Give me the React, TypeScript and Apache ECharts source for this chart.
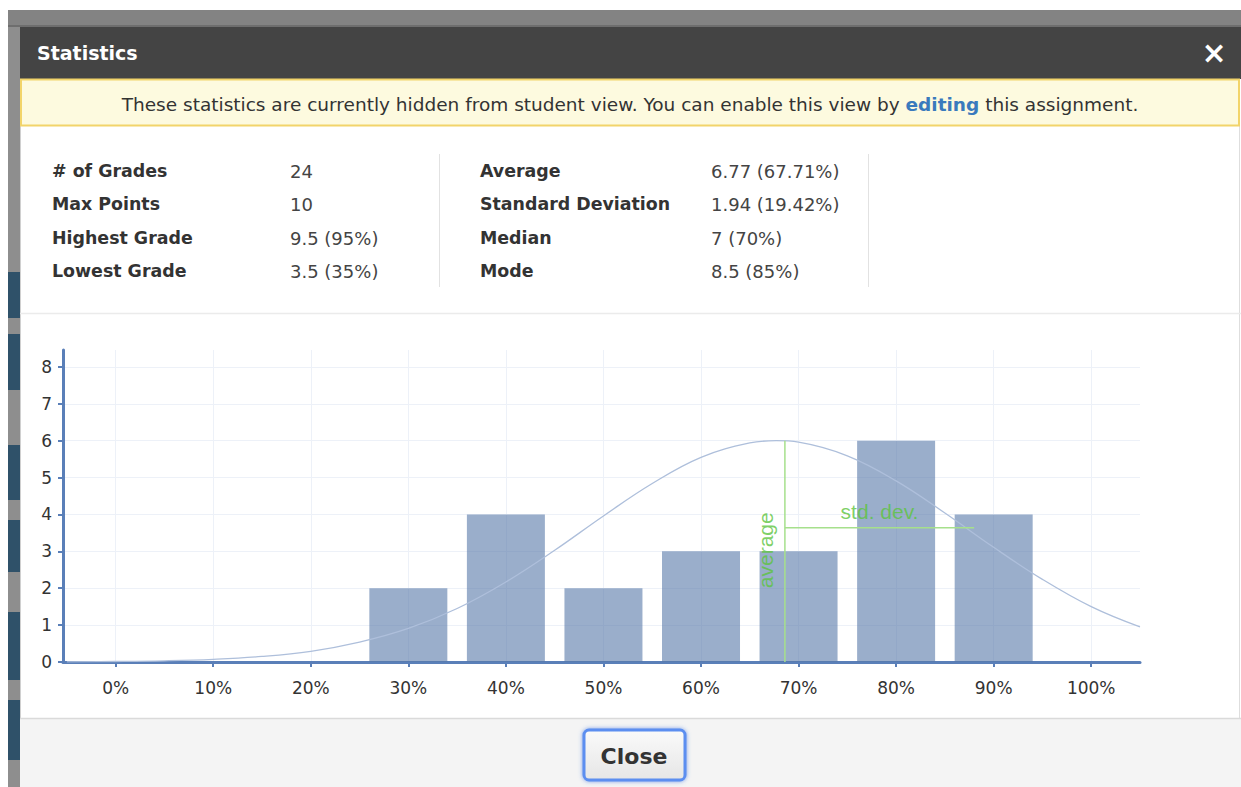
import React, { useEffect, useRef } from "react";
import * as echarts from "echarts";

// ---- data ----
const binCenters = [30, 40, 50, 60, 70, 80, 90];
const binCounts = [2, 4, 2, 3, 3, 6, 4];

const curveX = [-5, 0, 5, 10, 15, 20, 25, 30, 35, 40, 45, 50, 55, 60, 65, 67.7, 70, 75, 80, 85, 90, 95, 100, 105];
const curveY = [0.005, 0.014, 0.033, 0.073, 0.15, 0.29, 0.54, 0.91, 1.45, 2.17, 3.03, 3.96, 4.84, 5.55, 5.94, 6.0, 5.96, 5.59, 4.91, 4.04, 3.11, 2.24, 1.5, 0.95];

const xTicks = [0, 10, 20, 30, 40, 50, 60, 70, 80, 90, 100];
const yTicks = [0, 1, 2, 3, 4, 5, 6, 7, 8];

const averageX = 68.6;
const averageTop = 6;
const stdDevEndX = 88;
const stdDevY = 3.64;
const averageLabelY = 3.03;

const statLabelsLeft = ["# of Grades", "Max Points", "Highest Grade", "Lowest Grade"];
const statValuesLeft = ["24", "10", "9.5 (95%)", "3.5 (35%)"];
const statLabelsRight = ["Average", "Standard Deviation", "Median", "Mode"];
const statValuesRight = ["6.77 (67.71%)", "1.94 (19.42%)", "7 (70%)", "8.5 (85%)"];

const FONT = "DejaVu Sans";
const AXIS_BLUE = "#5a7fb8";
const GREEN_LINE = "#a6e08c";
const GREEN_TEXT = "#5cc43e";

function txt(text: string, x: number, y: number, opts: any = {}) {
  const align = opts.align || "left";
  return {
    type: "text",
    z: 50,
    style: {
      text,
      x,
      y,
      fill: opts.fill || "#333",
      fontSize: opts.fontSize || 17,
      fontWeight: opts.fontWeight || "normal",
      fontFamily: FONT,
      align,
      textAlign: align,
      verticalAlign: "middle",
      textVerticalAlign: "middle",
    },
  };
}

function rect(x: number, y: number, w: number, h: number, style: any, z = -10) {
  return { type: "rect", z, shape: { x, y, width: w, height: h }, style };
}

function line(x1: number, y1: number, x2: number, y2: number, stroke: string, lineWidth = 1, z = -5) {
  return { type: "line", z, shape: { x1, y1, x2, y2 }, style: { stroke, lineWidth } };
}

export default function App() {
  const ref = useRef<HTMLDivElement>(null);

  useEffect(() => {
    document.body.style.margin = "0";
    if (!ref.current) return;
    const chart = echarts.init(ref.current, undefined, { renderer: "svg" });

    const rowY = [171, 204, 238, 271];
    const stripSegments = [
      [272, 46],
      [334, 56],
      [445, 55],
      [520, 52],
      [612, 68],
      [700, 60],
    ];

    const graphics: any[] = [
      rect(0, 0, 1241, 787, { fill: "#ffffff" }, -100),
      rect(8, 10, 1233, 17, { fill: "#838383" }, -90),
      rect(8, 25, 1233, 2, { fill: "#6e6e6e" }, -89),
      rect(8, 27, 12, 760, { fill: "#8e8e8e" }, -90),
      ...stripSegments.map(([y, h]) => rect(8, y, 12, h, { fill: "#2f5169" }, -89)),
      // header
      rect(20, 27, 1221, 52, { fill: "#444444" }, -80),
      txt("Statistics", 37, 53, { fill: "#ffffff", fontSize: 19, fontWeight: "bold" }),
      txt("×", 1214, 52, { fill: "#ffffff", fontSize: 30, fontWeight: "bold", align: "center" }),
      // body
      rect(20, 79, 1221, 640, { fill: "#ffffff" }, -80),
      line(1239.5, 79, 1239.5, 787, "#dedede", 1, -70),
      line(20.5, 79, 20.5, 787, "#d0d0d0", 1, -70),
      // banner
      rect(21, 79.5, 1218, 46, { fill: "#fdfadf", stroke: "#f2d46a", lineWidth: 2 }, -70),
      {
        type: "text",
        z: 50,
        style: {
          text: "These statistics are currently hidden from student view. You can enable this view by {link|editing} this assignment.",
          x: 630,
          y: 104,
          fill: "#333",
          fontSize: 18.5,
          fontFamily: FONT,
          align: "center",
          textAlign: "center",
          verticalAlign: "middle",
          textVerticalAlign: "middle",
          rich: {
            link: { fill: "#3a7abd", color: "#3a7abd", fontWeight: "bold", fontSize: 18.5, fontFamily: FONT },
          },
        },
      },
      // stats
      ...statLabelsLeft.map((t, i) => txt(t, 52, rowY[i], { fontWeight: "bold", fill: "#333", fontSize: 17.4 })),
      ...statValuesLeft.map((t, i) => txt(t, 290, rowY[i], { fill: "#444", fontSize: 18 })),
      ...statLabelsRight.map((t, i) => txt(t, 480, rowY[i], { fontWeight: "bold", fill: "#333", fontSize: 17.4 })),
      ...statValuesRight.map((t, i) => txt(t, 711, rowY[i], { fill: "#444", fontSize: 18 })),
      line(439.5, 154, 439.5, 287, "#e2e2e2", 1, -60),
      line(868.5, 154, 868.5, 287, "#e2e2e2", 1, -60),
      line(20, 313.5, 1241, 313.5, "#ebebeb", 1.5, -60),
      // footer
      rect(20, 719, 1221, 68, { fill: "#f4f4f4" }, -60),
      line(20, 718.5, 1241, 718.5, "#dadada", 1.5, -55),
      {
        type: "rect",
        z: 40,
        shape: { x: 584, y: 730, width: 101, height: 50, r: 5 },
        style: {
          fill: new echarts.graphic.LinearGradient(0, 0, 0, 1, [
            { offset: 0, color: "#fafafa" },
            { offset: 1, color: "#e6e6e6" },
          ]),
          stroke: "#5b8ef0",
          lineWidth: 3,
          shadowBlur: 4,
          shadowColor: "rgba(70,120,230,0.7)",
        },
      },
      txt("Close", 634, 756, { fontSize: 22, fontWeight: "bold", fill: "#333", align: "center" }),
    ];

    chart.setOption({
      animation: false,
      graphic: { elements: graphics },
      grid: { left: 63, right: 101, top: 350, bottom: 125, containLabel: false },
      xAxis: {
        type: "value",
        min: -5.4,
        max: 105,
        axisLine: { show: true, onZero: false, lineStyle: { color: AXIS_BLUE, width: 3 } },
        axisTick: { show: true, customValues: xTicks, length: 5, lineStyle: { color: AXIS_BLUE, width: 2 } },
        axisLabel: {
          customValues: xTicks,
          formatter: (v: number) => v + "%",
          margin: 17,
          color: "#333",
          fontSize: 17,
          fontFamily: FONT,
        },
        splitLine: { show: true, lineStyle: { color: "#edf1f8", width: 1 } },
      },
      yAxis: {
        type: "value",
        min: 0,
        max: 8.46,
        axisLine: { show: true, onZero: false, lineStyle: { color: AXIS_BLUE, width: 3 } },
        axisTick: { show: true, customValues: yTicks, length: 5, lineStyle: { color: AXIS_BLUE, width: 2 } },
        axisLabel: { customValues: yTicks, margin: 11, color: "#333", fontSize: 17, fontFamily: FONT },
        splitLine: { show: true, lineStyle: { color: "#edf1f8", width: 1 } },
      },
      series: [
        {
          type: "bar",
          data: binCenters.map((x, i) => [x, binCounts[i]]),
          barWidth: 78,
          itemStyle: { color: "rgba(87,120,168,0.6)" },
          z: 2,
        },
        {
          type: "line",
          data: curveX.map((x, i) => [x, curveY[i]]),
          smooth: 0.4,
          symbol: "none",
          lineStyle: { color: "#aebfdb", width: 1.3 },
          z: 3,
        },
        {
          type: "line",
          data: [
            [averageX, 0],
            [averageX, averageTop],
          ],
          symbol: "none",
          lineStyle: { color: GREEN_LINE, width: 1.5 },
          z: 4,
        },
        {
          type: "line",
          data: [
            [averageX, stdDevY],
            [stdDevEndX, stdDevY],
          ],
          symbol: "none",
          lineStyle: { color: GREEN_LINE, width: 1.5 },
          z: 4,
        },
        {
          type: "scatter",
          symbolSize: 0,
          z: 5,
          data: [
            {
              value: [(averageX + stdDevEndX) / 2, stdDevY],
              label: {
                show: true,
                formatter: "std. dev.",
                position: "top",
                distance: 6,
                color: GREEN_TEXT,
                fontSize: 21,
                fontFamily: "Liberation Sans",
              },
            },
            {
              value: [averageX, averageLabelY],
              label: {
                show: true,
                formatter: "average",
                position: "inside",
                offset: [0, -19],
                rotate: 90,
                color: GREEN_TEXT,
                fontSize: 21,
                fontFamily: "Liberation Sans",
              },
            },
          ],
        },
      ],
    });

    return () => chart.dispose();
  }, []);

  return <div ref={ref} style={{ width: 1241, height: 787 }} />;
}
